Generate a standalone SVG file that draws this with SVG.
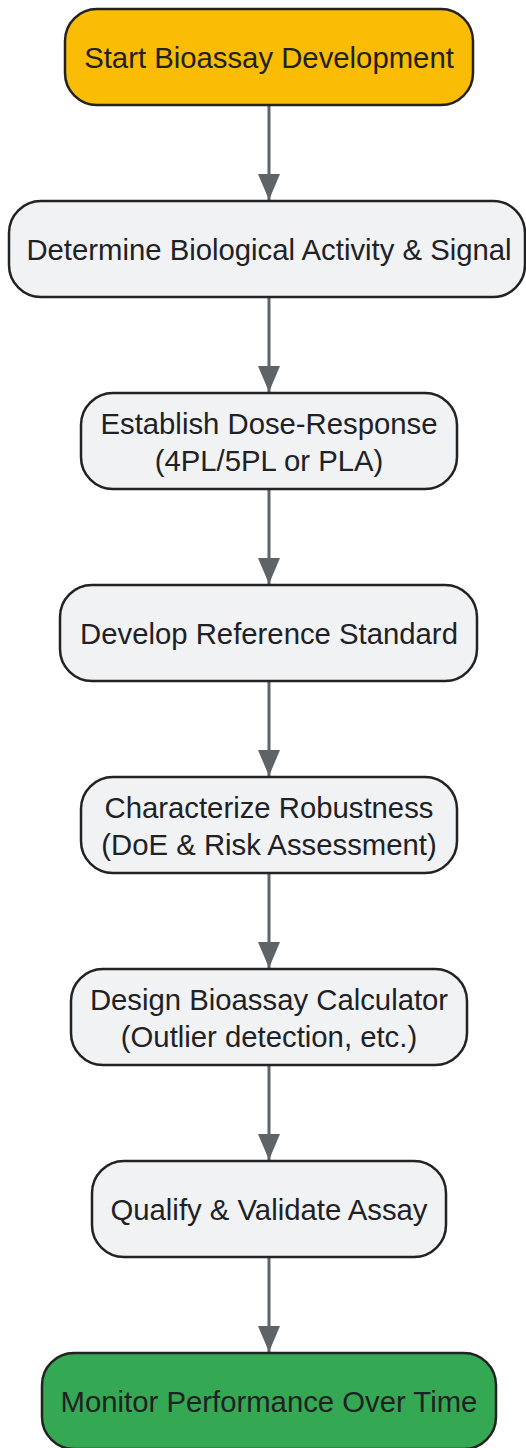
<svg xmlns="http://www.w3.org/2000/svg" width="526" height="1448" viewBox="0 0 526 1448">
<style>
.n{stroke:#222222;stroke-width:2.5}
.g{fill:#F1F2F4}
.t{font-family:"Liberation Sans",Arial,sans-serif;font-size:29.3px;fill:#202124;text-anchor:middle;dominant-baseline:central}
.e{stroke:#5F6368;stroke-width:3;fill:none;marker-end:url(#a)}
</style>
<defs>
<marker id="a" markerUnits="userSpaceOnUse" markerWidth="26" markerHeight="22" refX="26" refY="11" orient="auto" viewBox="0 0 26 22">
<path d="M0,0 L26,11 L0,22 Z" fill="#5F6368"/>
</marker>
</defs>
<g id="edges">
<path class="e" d="M269,105 V200"/>
<path class="e" d="M269,297 V392"/>
<path class="e" d="M269,489 V584"/>
<path class="e" d="M269,681 V776"/>
<path class="e" d="M269,873 V968"/>
<path class="e" d="M269,1065 V1160"/>
<path class="e" d="M269,1257 V1352"/>
</g>
<g id="n1"><rect class="n" x="65" y="9" width="408" height="96" rx="32" fill="#FBBC05"/><text class="t" x="269" y="57">Start Bioassay Development</text></g>
<g id="n2"><rect class="n g" x="9" y="201" width="516" height="96" rx="32"/><text class="t" x="269" y="249">Determine Biological Activity &amp; Signal</text></g>
<g id="n3"><rect class="n g" x="81" y="393" width="376" height="96" rx="32"/><text class="t" x="269" y="423">Establish Dose-Response</text><text class="t" x="269" y="460">(4PL/5PL or PLA)</text></g>
<g id="n4"><rect class="n g" x="60" y="585" width="417" height="96" rx="32"/><text class="t" x="269" y="633">Develop Reference Standard</text></g>
<g id="n5"><rect class="n g" x="81" y="777" width="376" height="96" rx="32"/><text class="t" x="269" y="807">Characterize Robustness</text><text class="t" x="269" y="844">(DoE &amp; Risk Assessment)</text></g>
<g id="n6"><rect class="n g" x="71" y="969" width="396" height="96" rx="32"/><text class="t" x="269" y="999">Design Bioassay Calculator</text><text class="t" x="269" y="1036">(Outlier detection, etc.)</text></g>
<g id="n7"><rect class="n g" x="92" y="1161" width="354" height="96" rx="32"/><text class="t" x="269" y="1209">Qualify &amp; Validate Assay</text></g>
<g id="n8"><rect class="n" x="42" y="1353" width="454" height="96" rx="32" fill="#34A853"/><text class="t" x="269" y="1401">Monitor Performance Over Time</text></g>
</svg>
